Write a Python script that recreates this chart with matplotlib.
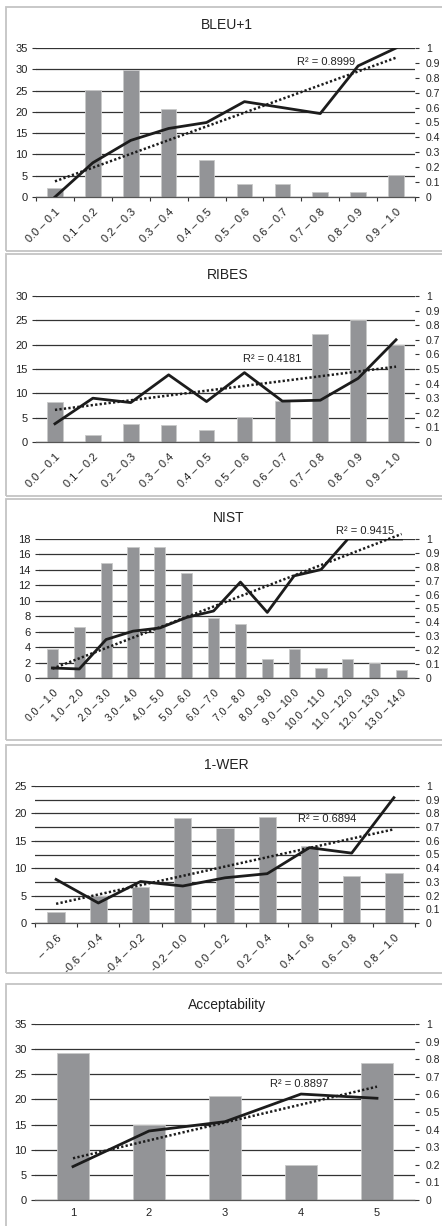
import matplotlib
matplotlib.use('Agg')
import matplotlib.pyplot as plt
from matplotlib.patches import Rectangle
from matplotlib.ticker import MultipleLocator
import numpy as np

plt.rcParams['font.family'] = ['Liberation Sans', 'DejaVu Sans']

W, H = 442, 1226

# ---- data ----
bleu_labels = ['0.0 – 0.1', '0.1 – 0.2', '0.2 – 0.3', '0.3 – 0.4', '0.4 – 0.5',
               '0.5 – 0.6', '0.6 – 0.7', '0.7 – 0.8', '0.8 – 0.9', '0.9 – 1.0']
bleu_bars = [2.0, 25.2, 29.9, 20.7, 8.7, 3.0, 3.0, 1.2, 1.2, 5.2]
bleu_line = [0.0, 0.23, 0.38, 0.46, 0.50, 0.64, 0.60, 0.56, 0.88, 1.0]
bleu_trend = [0.105, 0.935]
bleu_r2 = 'R² = 0.8999'

ribes_labels = bleu_labels
ribes_bars = [8.25, 1.5, 3.7, 3.5, 2.45, 5.2, 8.45, 22.2, 25.0, 20.0]
ribes_line = [0.125, 0.30, 0.27, 0.46, 0.277, 0.475, 0.28, 0.286, 0.436, 0.70]
ribes_trend = [0.22, 0.516]
ribes_r2 = 'R² = 0.4181'

nist_labels = ['0.0 – 1.0', '1.0 – 2.0', '2.0 – 3.0', '3.0 – 4.0', '4.0 – 5.0',
               '5.0 – 6.0', '6.0 – 7.0', '7.0 – 8.0', '8.0 – 9.0', '9.0 – 10.0',
               '10.0 – 11.0', '11.0 – 12.0', '12.0 – 13.0', '13.0 – 14.0']
nist_bars = [3.7, 6.55, 14.87, 17.0, 16.9, 13.6, 7.8, 7.0, 2.43, 3.7, 1.26, 2.43, 1.9, 1.08]
nist_line = [0.072, 0.065, 0.277, 0.337, 0.36, 0.436, 0.482, 0.69, 0.472, 0.735,
             0.78, 1.0, 1.0, 1.0]
nist_trend = [0.067, 1.036]
nist_r2 = 'R² = 0.9415'

wer_labels = ['– -0.6', '-0.6 – -0.4', '-0.4 – -0.2', '-0.2 – 0.0', '0.0 – 0.2',
              '0.2 – 0.4', '0.4 – 0.6', '0.6 – 0.8', '0.8 – 1.0']
wer_bars = [2.06, 5.0, 6.6, 19.2, 17.3, 19.4, 14.0, 8.55, 9.2]
wer_line = [0.318, 0.146, 0.303, 0.27, 0.33, 0.36, 0.55, 0.51, 0.915]
wer_trend = [0.14, 0.684]
wer_r2 = 'R² = 0.6894'

acc_labels = ['1', '2', '3', '4', '5']
acc_bars = [29.2, 14.85, 20.7, 6.9, 27.3]
acc_line = [0.19, 0.392, 0.445, 0.602, 0.578]
acc_trend = [0.237, 0.644]
acc_r2 = 'R² = 0.8897'

# ---- layout, pixel coords: frame top/bottom, axes left/top/bottom, title y ----
panels = [
    dict(title='BLEU+1', labels=bleu_labels, bars=bleu_bars, line=bleu_line, trend=bleu_trend,
         r2=bleu_r2, r2_xy=(7.15, 0.905), ymax=35, ystep=5, grid=5, rot=True, xticks=True,
         xfs=8, frame=(7, 251), ax=(36, 48, 197), title_y=25),
    dict(title='RIBES', labels=ribes_labels, bars=ribes_bars, line=ribes_line, trend=ribes_trend,
         r2=ribes_r2, r2_xy=(5.74, 0.568), ymax=30, ystep=5, grid=5, rot=True, xticks=False,
         xfs=8, frame=(254, 496), ax=(36, 296, 442), title_y=275),
    dict(title='NIST', labels=nist_labels, bars=nist_bars, line=nist_line, trend=nist_trend,
         r2=nist_r2, r2_xy=(11.63, 1.055), ymax=18, ystep=2, grid=2, rot=True, xticks=False,
         xfs=7.5, frame=(499, 740), ax=(39, 539, 678), title_y=518),
    dict(title='1-WER', labels=wer_labels, bars=wer_bars, line=wer_line, trend=wer_trend,
         r2=wer_r2, r2_xy=(6.42, 0.762), ymax=25, ystep=5, grid=2.5, rot=True, xticks=True,
         xfs=8, frame=(745, 973), ax=(35, 786, 923), title_y=765),
    dict(title='Acceptability', labels=acc_labels, bars=acc_bars, line=acc_line, trend=acc_trend,
         r2=acc_r2, r2_xy=(2.98, 0.661), ymax=35, ystep=5, grid=5, rot=False, xticks=False,
         xfs=8, frame=(984, 1240), ax=(35, 1024, 1200), title_y=1005),
]

BAR = '#939497'
INK = '#1c1c1c'
GRID = '#333333'
TXT = '#222222'

fig = plt.figure(figsize=(W / 100, H / 100), dpi=100)

for p in panels:
    ft, fb = p['frame']
    fig.add_artist(Rectangle((6 / W, 1 - fb / H), 450 / W, (fb - ft) / H,
                             transform=fig.transFigure, fill=False,
                             ec='#c4c4c4', lw=1.3))

    left, top, bottom = p['ax']
    right = 415
    ax = fig.add_axes([left / W, 1 - bottom / H, (right - left) / W, (bottom - top) / H])
    ax2 = ax.twinx()

    n = len(p['bars'])
    x = np.arange(n)
    ax.bar(x, p['bars'], width=0.41, color=BAR, edgecolor='#c9c9c9', linewidth=0.6, zorder=2)
    ax.set_xlim(-0.5, n - 0.5)
    ax.set_ylim(0, p['ymax'])
    ax.yaxis.set_major_locator(MultipleLocator(p['ystep']))
    ax.yaxis.set_minor_locator(MultipleLocator(p['grid']))
    ax.set_axisbelow(True)
    ax.grid(axis='y', which='both', color=GRID, lw=0.9, zorder=0)
    ax.tick_params(axis='y', which='minor', length=0)
    ax.tick_params(axis='y', which='major', length=3, width=0.8, color=GRID,
                   labelsize=8, pad=3, labelcolor=TXT)

    ax.set_xticks(x)
    if p['rot']:
        ax.set_xticklabels(p['labels'], rotation=45, ha='right', rotation_mode='anchor',
                           fontsize=p['xfs'], color=TXT)
        ax.tick_params(axis='x', which='major', length=0, pad=7)
    else:
        ax.set_xticklabels(p['labels'], fontsize=p['xfs'], color=TXT)
        ax.tick_params(axis='x', which='major', length=0, pad=6)
    if p['xticks']:
        ax.set_xticks(np.arange(n + 1) - 0.5, minor=True)
        ax.tick_params(axis='x', which='minor', length=3, width=0.8, color=GRID)

    for s in ['left', 'right', 'top']:
        ax.spines[s].set_visible(False)
    ax.spines['bottom'].set_color('#555555')
    ax.spines['bottom'].set_linewidth(0.9)

    ax2.plot(x, p['line'], color=INK, lw=2.0, zorder=3)
    ax2.plot([x[0], x[-1]], p['trend'], color=INK, lw=1.8, ls=(0, (0.9, 0.9)),
             clip_on=False, zorder=4)
    ax2.set_ylim(0, 1)
    ax2.set_yticks(np.linspace(0, 1, 11))
    ax2.set_yticklabels(['0', '0.1', '0.2', '0.3', '0.4', '0.5', '0.6', '0.7', '0.8', '0.9', '1'])
    ax2.tick_params(axis='y', length=3, width=0.8, color=GRID, labelsize=7.5, pad=5,
                    labelcolor=TXT)
    for s in ['left', 'right', 'top', 'bottom']:
        ax2.spines[s].set_visible(False)

    ax2.text(p['r2_xy'][0], p['r2_xy'][1], p['r2'], fontsize=8, ha='center', va='center',
             color=TXT, zorder=5)

    fig.text((left + right) / 2 / W + 0.004, 1 - p['title_y'] / H, p['title'],
             ha='center', va='center', fontsize=10, color=TXT)

fig.savefig('out.png', dpi=100)
